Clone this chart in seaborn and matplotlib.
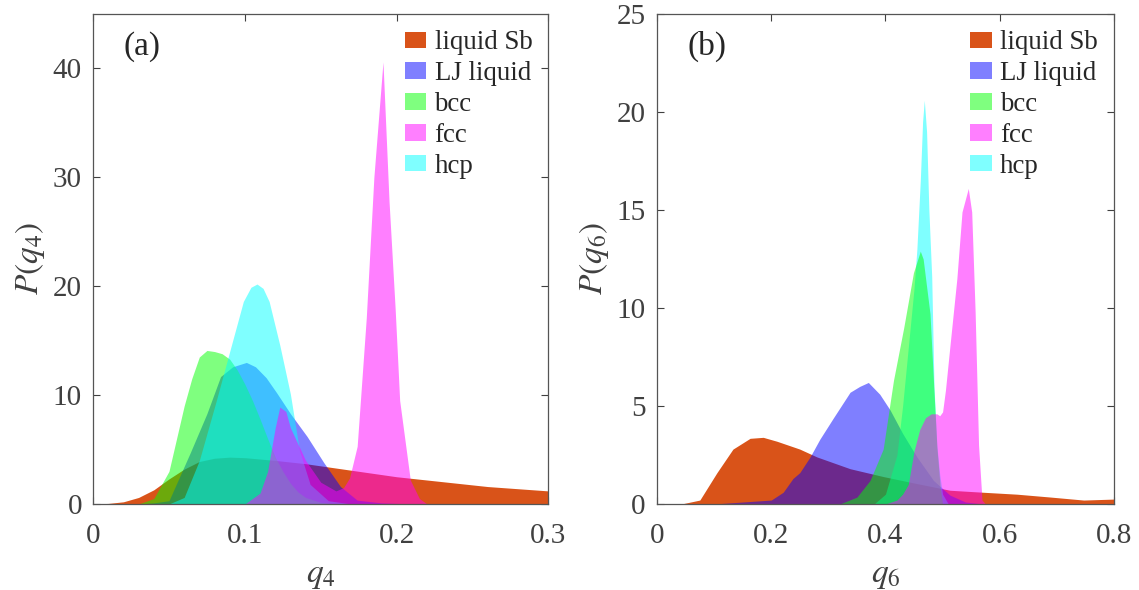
import numpy as np
import matplotlib
matplotlib.use('Agg')
import matplotlib.pyplot as plt
import matplotlib.patches as mpatches
import seaborn as sns

# ------------------------------------------------------------------------------
# data (q, P(q)) for every structure
# ------------------------------------------------------------------------------

labels = ['liquid Sb', 'LJ liquid', 'bcc', 'fcc', 'hcp']

# panel (a): q4
sb_q4 = [0, 0.01, 0.02, 0.03, 0.04, 0.05, 0.06, 0.07, 0.08, 0.09, 0.10, 0.12,
         0.14, 0.16, 0.18, 0.20, 0.22, 0.24, 0.26, 0.28, 0.30]
sb_p4 = [0, 0.05, 0.2, 0.6, 1.3, 2.3, 3.2, 3.9, 4.2, 4.3, 4.25, 4.0, 3.7, 3.3,
         2.9, 2.5, 2.2, 1.9, 1.6, 1.4, 1.2]

lj_q4 = [0.03, 0.04, 0.05, 0.064, 0.075, 0.084, 0.092, 0.101, 0.107, 0.114,
         0.121, 0.13, 0.141, 0.152, 0.163, 0.174, 0.19, 0.21]
lj_p4 = [0, 0.1, 0.3, 4.7, 8.3, 11.7, 12.6, 13.0, 12.6, 11.6, 10.2, 8.3, 6.2,
         3.8, 1.6, 0.35, 0.1, 0]

bcc_q4 = [0.03, 0.04, 0.05, 0.055, 0.06, 0.065, 0.07, 0.075, 0.08, 0.085, 0.09,
          0.095, 0.10, 0.105, 0.11, 0.115, 0.12, 0.125, 0.13, 0.135, 0.14,
          0.15, 0.16]
bcc_p4 = [0, 0.5, 3.0, 6.0, 9.0, 11.5, 13.5, 14.1, 14.0, 13.8, 13.3, 12.3, 11.0,
          9.5, 7.8, 6.0, 4.3, 3.0, 1.9, 1.1, 0.6, 0.15, 0]

fcc_q4 = [0.10, 0.11, 0.115, 0.12, 0.123, 0.127, 0.13, 0.14, 0.15, 0.16, 0.165,
          0.169, 0.174, 0.18, 0.185, 0.191, 0.195, 0.199, 0.202, 0.209, 0.215,
          0.22]
fcc_p4 = [0, 1.0, 3.0, 7.0, 8.9, 8.5, 7.0, 4.0, 2.0, 1.2, 1.5, 2.4, 5.3, 17.1,
          30.0, 40.6, 27.8, 18.0, 9.5, 2.2, 0.5, 0]

hcp_q4 = [0.05, 0.06, 0.07, 0.081, 0.09, 0.099, 0.104, 0.108, 0.112, 0.116,
          0.123, 0.13, 0.136, 0.143, 0.155, 0.17]
hcp_p4 = [0, 0.6, 4.0, 9.4, 14.0, 18.6, 19.9, 20.2, 19.8, 18.6, 14.6, 10.1, 4.9,
          1.8, 0.3, 0]

# panel (b): q6
sb_q6 = [0, 0.046, 0.075, 0.105, 0.133, 0.163, 0.186, 0.21, 0.25, 0.28, 0.338,
         0.396, 0.455, 0.513, 0.57, 0.63, 0.69, 0.747, 0.8]
sb_p6 = [0, 0.02, 0.2, 1.6, 2.8, 3.35, 3.4, 3.2, 2.8, 2.4, 1.8, 1.4, 1.04, 0.7,
         0.6, 0.5, 0.35, 0.2, 0.25]

lj_q6 = [0.10, 0.2, 0.221, 0.238, 0.25, 0.268, 0.285, 0.309, 0.338, 0.355, 0.37,
         0.39, 0.408, 0.43, 0.455, 0.484, 0.513, 0.54, 0.57]
lj_p6 = [0, 0.2, 0.6, 1.3, 1.6, 2.4, 3.3, 4.4, 5.7, 6.0, 6.2, 5.6, 4.8, 3.6, 2.4,
         1.2, 0.45, 0.1, 0]

bcc_q6 = [0.32, 0.35, 0.373, 0.396, 0.414, 0.432, 0.449, 0.461, 0.466, 0.478,
          0.484, 0.49, 0.496, 0.50]
bcc_p6 = [0, 0.35, 1.2, 2.8, 6.3, 9.0, 11.8, 12.9, 12.5, 9.7, 6.3, 2.9, 0.8, 0]

fcc_q6 = [0.40, 0.42, 0.43, 0.44, 0.45, 0.46, 0.47, 0.48, 0.49, 0.495, 0.50,
          0.505, 0.513, 0.525, 0.534, 0.545, 0.551, 0.557, 0.563, 0.569, 0.575]
fcc_p6 = [0, 0.2, 0.5, 1.0, 2.7, 3.8, 4.4, 4.6, 4.6, 4.5, 4.7, 5.8, 8.1, 11.5,
          14.9, 16.1, 14.9, 9.8, 3.0, 0.2, 0]

hcp_q6 = [0.38, 0.40, 0.42, 0.43, 0.44, 0.45, 0.455, 0.461, 0.465, 0.468, 0.472,
          0.476, 0.481, 0.485, 0.49, 0.495, 0.50, 0.51]
hcp_p6 = [0, 0.5, 2.5, 5.0, 8.0, 11.0, 13.0, 16.5, 19.5, 20.6, 19.0, 15.0, 11.6,
          6.0, 3.0, 1.5, 0.5, 0]

colors = {'liquid Sb': '#D95319', 'LJ liquid': '#0000FF', 'bcc': '#00FF00',
          'fcc': '#FF00FF', 'hcp': '#00FFFF'}
alphas = {'liquid Sb': 1.0, 'LJ liquid': 0.5, 'bcc': 0.5, 'fcc': 0.5, 'hcp': 0.5}

# ------------------------------------------------------------------------------
# style
# ------------------------------------------------------------------------------

sns.set_style('ticks')
plt.rcParams['font.family'] = ['Liberation Serif', 'DejaVu Serif']
plt.rcParams['mathtext.fontset'] = 'stix'
plt.rcParams['xtick.direction'] = 'in'
plt.rcParams['ytick.direction'] = 'in'

fig = plt.figure(figsize=(11.39, 5.90), dpi=100)
ax1 = fig.add_axes([0.0817, 0.1458, 0.3998, 0.8305])
ax2 = fig.add_axes([0.5768, 0.1458, 0.4012, 0.8305])

# drawing order differs between panels (legend order stays the same)
panels = [
    (ax1, {'liquid Sb': (sb_q4, sb_p4), 'LJ liquid': (lj_q4, lj_p4), 'bcc': (bcc_q4, bcc_p4),
           'hcp': (hcp_q4, hcp_p4), 'fcc': (fcc_q4, fcc_p4)},
     (0, 0.3), (0, 45), [0, 0.1, 0.2, 0.3], [0, 10, 20, 30, 40], r'$q_4$', r'$P(q_4)$', '(a)'),
    (ax2, {'liquid Sb': (sb_q6, sb_p6), 'LJ liquid': (lj_q6, lj_p6), 'hcp': (hcp_q6, hcp_p6),
           'bcc': (bcc_q6, bcc_p6), 'fcc': (fcc_q6, fcc_p6)},
     (0, 0.8), (0, 25), [0, 0.2, 0.4, 0.6, 0.8], [0, 5, 10, 15, 20, 25], r'$q_6$', r'$P(q_6)$', '(b)'),
]

grey = '#404040'

for ax, series, xlim, ylim, xt, yt, xl, yl, tag in panels:
    for name, (q, p) in series.items():
        ax.fill_between(q, 0, p, color=colors[name], alpha=alphas[name], linewidth=0)
    ax.set_xlim(*xlim)
    ax.set_ylim(*ylim)
    ax.set_xticks(xt)
    ax.set_xticklabels([f'{v:g}' for v in xt])
    ax.set_yticks(yt)
    ax.set_xlabel(xl, fontsize=24, color=grey, labelpad=8)
    ax.set_ylabel(yl, fontsize=24, color=grey, labelpad=4)
    ax.tick_params(labelsize=21, colors=grey, top=True, right=True, length=5, width=0.8)
    ax.tick_params(axis='x', pad=14)
    ax.tick_params(axis='y', pad=8)
    for s in ax.spines.values():
        s.set_color('#555555')
        s.set_linewidth(0.9)
    ax.text(0.066, 0.933, tag, transform=ax.transAxes, fontsize=24, va='center', ha='left')

    # legend
    handles = [mpatches.Patch(facecolor=colors[n], alpha=alphas[n], edgecolor='none') for n in labels]
    ax.legend(handles, labels, loc='upper right', frameon=False, fontsize=19.4,
              handlelength=0.8, handleheight=0.55, handletextpad=0.3,
              labelspacing=0.22, borderaxespad=0.3, borderpad=0.3)

plt.savefig('out.png', dpi=100)
plt.close()
